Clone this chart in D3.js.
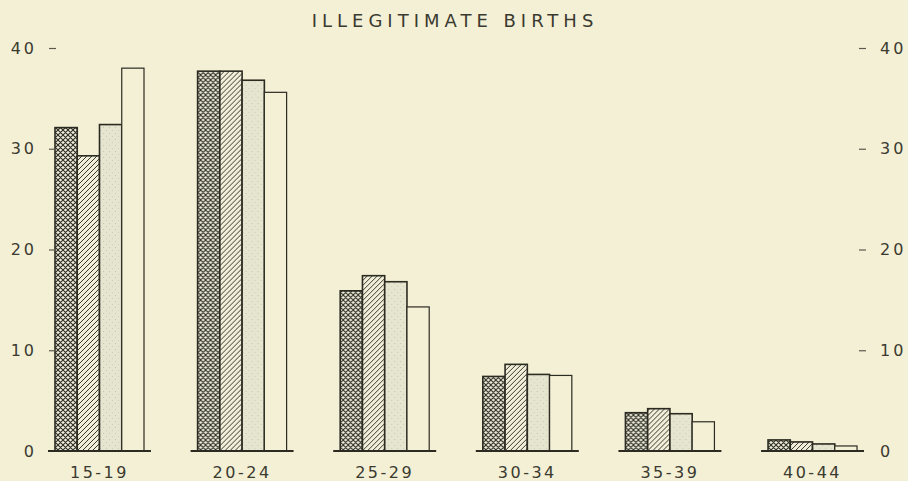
<!DOCTYPE html>
<html>
<head>
<meta charset="utf-8">
<script src="https://cdn.jsdelivr.net/npm/d3@7"></script>
<style>
  body { margin: 0; background: #f3f0d6; }
  text { font-family: "DejaVu Sans", sans-serif; fill: #3b3a30; }
</style>
</head>
<body>
<script>
// Illegitimate births by age of mother, four series per age group

let ageGroups = ["15-19", "20-24", "25-29", "30-34", "35-39", "40-44"];
let seriesKeys = ["s1", "s2", "s3", "s4"];
let s1 = [32.1, 37.7, 15.9, 7.4, 3.8, 1.1];
let s2 = [29.3, 37.7, 17.4, 8.6, 4.2, 0.9];
let s3 = [32.4, 36.8, 16.8, 7.6, 3.7, 0.7];
let s4 = [38.0, 35.6, 14.3, 7.5, 2.9, 0.5];
let yTicks = [0, 10, 20, 30, 40];
let title = "ILLEGITIMATE BIRTHS";

let width = 908;
let height = 481;

let svg = d3.select("body").append("svg")
  .attr("width", width)
  .attr("height", height);

svg.append("rect").attr("width", width).attr("height", height).attr("fill", "#f3f0d6");

// patterns for the four series
let defs = svg.append("defs");

let cross = defs.append("pattern")
  .attr("id", "cross")
  .attr("patternUnits", "userSpaceOnUse")
  .attr("width", 5).attr("height", 5);
cross.append("rect").attr("width", 5).attr("height", 5).attr("fill", "#efeedb");
cross.append("path").attr("d", "M0,0 L5,5 M-1,4 L1,6 M4,-1 L6,1 M0,5 L5,0 M-1,1 L1,-1 M4,6 L6,4")
  .attr("stroke", "#2c2b22").attr("stroke-width", 1.1);

let hatch = defs.append("pattern")
  .attr("id", "hatch")
  .attr("patternUnits", "userSpaceOnUse")
  .attr("width", 5).attr("height", 5);
hatch.append("rect").attr("width", 5).attr("height", 5).attr("fill", "#f1efda");
hatch.append("path").attr("d", "M0,5 L5,0 M-1,1 L1,-1 M4,6 L6,4")
  .attr("stroke", "#3a392e").attr("stroke-width", 1);

let dots = defs.append("pattern")
  .attr("id", "dots")
  .attr("patternUnits", "userSpaceOnUse")
  .attr("width", 6).attr("height", 6);
dots.append("rect").attr("width", 6).attr("height", 6).attr("fill", "#e6e5cf");
dots.append("circle").attr("cx", 1.5).attr("cy", 1.5).attr("r", 0.4).attr("fill", "#9c9b88");
dots.append("circle").attr("cx", 4.5).attr("cy", 4.5).attr("r", 0.4).attr("fill", "#b0af9c");

let fills = { s1: "url(#cross)", s2: "url(#hatch)", s3: "url(#dots)", s4: "#f3f0d6" };

// scales
let y = d3.scaleLinear().domain([0, 40]).range([451, 48]);

let x0 = d3.scaleBand()
  .domain(ageGroups)
  .range([48, 864])
  .paddingInner(0.278)
  .paddingOuter(0);

let x1 = d3.scaleBand()
  .domain(seriesKeys)
  .range([7, 96]);

let table = ageGroups.map((g, i) => ({
  group: g,
  values: [
    { key: "s1", value: s1[i] },
    { key: "s2", value: s2[i] },
    { key: "s3", value: s3[i] },
    { key: "s4", value: s4[i] }
  ]
}));

// title
svg.append("text")
  .attr("x", 455)
  .attr("y", 27)
  .attr("text-anchor", "middle")
  .style("font-size", "18px")
  .style("letter-spacing", "5px")
  .text(title);

// groups with baseline and bars
let groups = svg.selectAll("g.group")
  .data(table)
  .join("g")
  .attr("class", "group")
  .attr("transform", d => `translate(${x0(d.group)},0)`);

groups.selectAll("rect")
  .data(d => d.values)
  .join("rect")
  .attr("x", d => x1(d.key))
  .attr("width", x1.bandwidth())
  .attr("y", d => y(d.value))
  .attr("height", d => y(0) - y(d.value))
  .attr("fill", d => fills[d.key])
  .attr("stroke", "#2c2b22")
  .attr("stroke-width", d => d.key === "s4" ? 1.2 : 1.6);

groups.append("line")
  .attr("x1", 0)
  .attr("x2", x0.bandwidth())
  .attr("y1", y(0))
  .attr("y2", y(0))
  .attr("stroke", "#2c2b22")
  .attr("stroke-width", 2);

groups.append("text")
  .attr("x", x0.bandwidth() / 2)
  .attr("y", 478)
  .attr("text-anchor", "middle")
  .style("font-size", "16px")
  .style("letter-spacing", "2.5px")
  .text(d => d.group);

// left axis
let leftAxis = svg.append("g")
  .attr("transform", "translate(56,0)")
  .call(d3.axisLeft(y).tickValues(yTicks).tickSize(7).tickPadding(12).tickFormat(d3.format("d")));
leftAxis.select(".domain").remove();
leftAxis.selectAll("line").attr("stroke", "#5a594c").attr("stroke-width", 1.2);
leftAxis.selectAll(".tick").filter(d => d === 0).select("line").remove();
leftAxis.selectAll("text")
  .style("font-size", "16px")
  .style("letter-spacing", "3px")
  .style("font-family", "DejaVu Sans, sans-serif")
  .attr("fill", "#3b3a30");

// right axis
let rightAxis = svg.append("g")
  .attr("transform", "translate(859,0)")
  .call(d3.axisRight(y).tickValues(yTicks).tickSize(7).tickPadding(14).tickFormat(d3.format("d")));
rightAxis.select(".domain").remove();
rightAxis.selectAll("line").attr("stroke", "#5a594c").attr("stroke-width", 1.2);
rightAxis.selectAll(".tick").filter(d => d === 0).select("line").remove();
rightAxis.selectAll("text")
  .style("font-size", "16px")
  .style("letter-spacing", "3px")
  .style("font-family", "DejaVu Sans, sans-serif")
  .attr("fill", "#3b3a30");
</script>
</body>
</html>
